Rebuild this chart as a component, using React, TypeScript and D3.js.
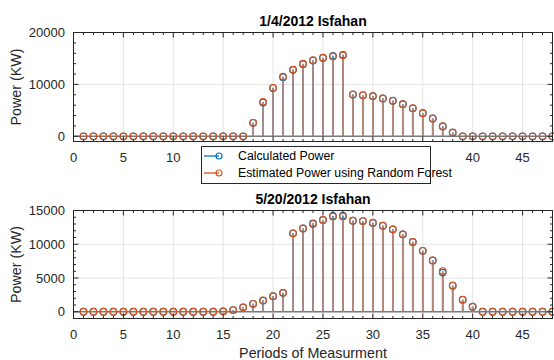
import React from "react";
import * as d3 from "d3";

// measurement periods 1..48
const periods = d3.range(1, 49);

const topCalculated = [
  0, 0, 0, 0, 0, 0, 0, 0, 0, 0, 0, 0, 0, 0, 0, 0, 0,
  2600, 6500, 9300, 11400, 12800, 13900, 14600, 15100, 15500, 15700,
  8050, 7900, 7750, 7300, 6850, 6200, 5400, 4450, 3450, 1900, 700,
  0, 0, 0, 0, 0, 0, 0, 0, 0, 0,
];
const topEstimated = [
  0, 0, 0, 0, 0, 0, 0, 0, 0, 0, 0, 0, 0, 0, 0, 0, 0,
  2600, 6650, 9350, 11500, 12850, 14000, 14650, 15150, 15400, 15600,
  8070, 7930, 7740, 7300, 6840, 6200, 5420, 4460, 3430, 1950, 730,
  0, 0, 0, 0, 0, 0, 0, 0, 0, 0,
];

const bottomCalculated = [
  0, 0, 0, 0, 0, 0, 0, 0, 0, 0, 0, 0, 0, 0,
  60, 250, 650, 1180, 1650, 2310, 2800, 11620, 12350, 13100, 13590, 14200,
  14250, 13490, 13440, 13150, 12750, 12210, 11470, 10350, 9030, 7600, 5800,
  3880, 1770, 740,
  0, 0, 0, 0, 0, 0, 0, 0,
];
const bottomEstimated = [
  0, 0, 0, 0, 0, 0, 0, 0, 0, 0, 0, 0, 0, 0,
  60, 250, 650, 1180, 1680, 2310, 2800, 11620, 12350, 13000, 13590, 14120,
  14120, 13490, 13440, 13200, 12750, 12210, 11470, 10350, 9030, 7600, 6030,
  3850, 1800, 740,
  0, 0, 0, 0, 0, 0, 0, 0,
];

const seriesNames = ["Calculated Power", "Estimated Power using Random Forest"];
const titles = ["1/4/2012 Isfahan", "5/20/2012 Isfahan"];

const BLUE = "#0072BD";
const ORANGE = "#D95319";
const STEM = "#b3897e";
const AXIS = "#262626";
const GRID = "#e3e3e3";
const FONT = "'Liberation Sans', Arial, Helvetica, sans-serif";

const L = 73.5;
const R = 552.5;
// legend box (top panel), sits over the x tick labels like in the original
const LEG = { x: 201.5, y: 146.5, w: 229, h: 37 };

type PanelProps = {
  title: string;
  calc: number[];
  est: number[];
  yMax: number;
  yStep: number;
  yMinor: number;
  top: number;
  bottom: number;
  xLabel?: string;
  legend?: boolean;
};

function Panel({ title, calc, est, yMax, yStep, yMinor, top, bottom, xLabel, legend }: PanelProps) {
  const x = d3.scaleLinear().domain([0, 48]).range([L, R]);
  const y = d3.scaleLinear().domain([-1000, yMax]).range([bottom, top]);

  const xMajor = d3.range(0, 46, 5);
  const xMinor = d3.range(0, 49, 1);
  const yMajor = d3.range(0, yMax + 1, yStep);
  const yMinorTicks = d3.range(0, yMax + 1, yMinor);
  const y0 = y(0);

  // labels hidden behind the legend are not drawn
  const xLabels = legend
    ? xMajor.filter((t) => x(t) + 8 < LEG.x || x(t) - 8 > LEG.x + LEG.w)
    : xMajor;

  return (
    <g>
      {/* grid */}
      {xMajor.filter((t) => t > 0).map((t) => (
        <line key={"gx" + t} x1={x(t)} x2={x(t)} y1={top} y2={bottom} stroke={GRID} strokeWidth={1} />
      ))}
      {yMajor.map((t) => (
        <line key={"gy" + t} x1={L} x2={R} y1={y(t)} y2={y(t)} stroke={GRID} strokeWidth={1} />
      ))}

      {/* baseline */}
      <line x1={L} x2={R} y1={y0} y2={y0} stroke="#7a7a7a" strokeWidth={1.6} />

      {/* stems */}
      {periods.map((p, i) => (
        <line key={"sc" + p} x1={x(p)} x2={x(p)} y1={y0} y2={y(calc[i])} stroke={BLUE} strokeWidth={1.6} />
      ))}
      {periods.map((p, i) => (
        <line key={"se" + p} x1={x(p)} x2={x(p)} y1={y0} y2={y(est[i])} stroke={STEM} strokeWidth={1.8} />
      ))}
      {periods.map((p, i) => (
        <circle key={"mc" + p} cx={x(p)} cy={y(calc[i])} r={3.3} fill="none" stroke={BLUE} strokeWidth={1.2} />
      ))}
      {periods.map((p, i) => (
        <circle key={"me" + p} cx={x(p)} cy={y(est[i])} r={3.3} fill="none" stroke={ORANGE} strokeWidth={1.2} />
      ))}

      {/* box */}
      <rect x={L} y={top} width={R - L} height={bottom - top} fill="none" stroke={AXIS} strokeWidth={1} />

      {/* ticks */}
      {xMinor.map((t) => {
        const len = t % 5 === 0 ? 5 : 2.5;
        return (
          <g key={"tx" + t}>
            <line x1={x(t)} x2={x(t)} y1={bottom} y2={bottom - len} stroke={AXIS} />
            <line x1={x(t)} x2={x(t)} y1={top} y2={top + len} stroke={AXIS} />
          </g>
        );
      })}
      {yMinorTicks.map((t) => {
        const len = t % yStep === 0 ? 5 : 2.5;
        return (
          <g key={"ty" + t}>
            <line x1={L} x2={L + len} y1={y(t)} y2={y(t)} stroke={AXIS} />
            <line x1={R} x2={R - len} y1={y(t)} y2={y(t)} stroke={AXIS} />
          </g>
        );
      })}

      {/* tick labels */}
      {xLabels.map((t) => (
        <text key={"lx" + t} x={x(t)} y={bottom + 20} textAnchor="middle" fontSize={13} fill={AXIS} fontFamily={FONT}>
          {t}
        </text>
      ))}
      {yMajor.map((t) => (
        <text key={"ly" + t} x={65} y={y(t) + 4.5} textAnchor="end" fontSize={13} fill={AXIS} fontFamily={FONT}>
          {t}
        </text>
      ))}

      <text x={(L + R) / 2} y={top - 6.5} textAnchor="middle" fontSize={14} fontWeight="bold" fill="#000" fontFamily={FONT}>
        {title}
      </text>
      <text
        transform={`translate(21,${(top + bottom) / 2}) rotate(-90)`}
        textAnchor="middle"
        fontSize={14.3}
        fill={AXIS}
        fontFamily={FONT}
      >
        Power (KW)
      </text>
      {xLabel && (
        <text x={(L + R) / 2} y={358} textAnchor="middle" fontSize={14.3} fill={AXIS} fontFamily={FONT}>
          {xLabel}
        </text>
      )}

      {legend && (
        <g>
          <rect x={LEG.x} y={LEG.y} width={LEG.w} height={LEG.h} fill="#fff" stroke={AXIS} strokeWidth={1} />
          {seriesNames.map((name, i) => {
            const ly = 156 + i * 17;
            const col = i === 0 ? BLUE : ORANGE;
            return (
              <g key={name}>
                <line x1={204} x2={219} y1={ly} y2={ly} stroke={col} strokeWidth={1.3} />
                <circle cx={219} cy={ly} r={3} fill="none" stroke={col} strokeWidth={1.2} />
                <text x={238} y={ly + 4.3} fontSize={12.3} fill="#000" fontFamily={FONT}>
                  {name}
                </text>
              </g>
            );
          })}
        </g>
      )}
    </g>
  );
}

export default function App() {
  return (
    <svg
      width={554}
      height={360}
      style={{ position: "absolute", left: 0, top: 0, background: "#fff" }}
    >
      <rect width={554} height={360} fill="#fff" />
      <Panel
        title={titles[1]}
        calc={bottomCalculated}
        est={bottomEstimated}
        yMax={15000}
        yStep={5000}
        yMinor={1000}
        top={210.5}
        bottom={318.5}
        xLabel="Periods of Measurment"
      />
      <Panel
        title={titles[0]}
        calc={topCalculated}
        est={topEstimated}
        yMax={20000}
        yStep={10000}
        yMinor={2000}
        top={32.5}
        bottom={141.5}
        legend
      />
    </svg>
  );
}
